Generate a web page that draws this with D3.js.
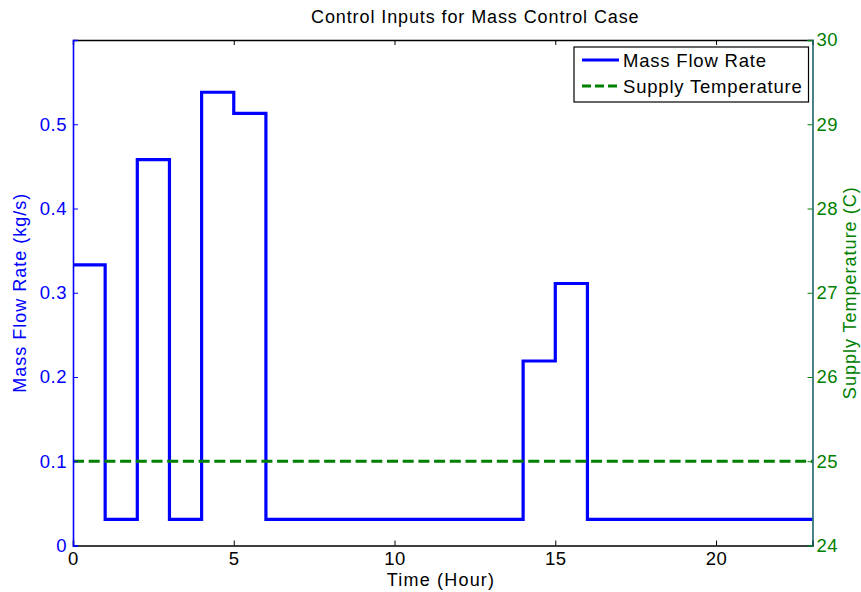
<!DOCTYPE html>
<html>
<head>
<meta charset="utf-8">
<script src="https://cdn.jsdelivr.net/npm/d3@7"></script>
<style>
body{margin:0;background:#fff;}
text{font-family:"Liberation Sans",Arial,Helvetica,sans-serif;}
</style>
</head>
<body>
<svg id="c" width="861" height="592"></svg>
<script>
// Data
const hours = [0,1,2,3,4,5,6,14,15,16,23];
const massFlow = [0.333,0.031,0.458,0.031,0.538,0.513,0.031,0.219,0.311,0.031,0.031];
const supplyTemp = [25,25];
const tempHours = [0,23];
const xTicks = [0,5,10,15,20];
const yLeftTicks = [0,0.1,0.2,0.3,0.4,0.5];
const yRightTicks = [24,25,26,27,28,29,30];
const title = "Control Inputs for Mass Control Case";
const xLabel = "Time (Hour)";
const yLeftLabel = "Mass Flow Rate (kg/s)";
const yRightLabel = "Supply Temperature (C)";
const legendLabels = ["Mass Flow Rate","Supply Temperature"];

const blue = "#0000ff", green = "#008000";
const L = 73, R = 812.5, T = 40, B = 545.5;
const svg = d3.select("#c");

const x = d3.scaleLinear().domain([0,23]).range([L,R]);
const yL = d3.scaleLinear().domain([0,0.6]).range([B,T]);
const yR = d3.scaleLinear().domain([24,30]).range([B,T]);

// Lines
const pts = hours.map((h,i)=>({x:h,y:massFlow[i]}));
const line = d3.line().x(d=>x(d.x)).y(d=>yL(d.y)).curve(d3.curveStepAfter);
svg.append("path").datum(pts).attr("d",line)
  .attr("fill","none").attr("stroke",blue).attr("stroke-width",3.2).attr("stroke-linejoin","miter");

const tpts = tempHours.map((h,i)=>({x:h,y:supplyTemp[i]}));
svg.append("path").datum(tpts)
  .attr("d",d3.line().x(d=>x(d.x)).y(d=>yR(d.y)))
  .attr("fill","none").attr("stroke",green).attr("stroke-width",3.2).attr("stroke-dasharray","11,4.7");

// Axes
const fs = "18.5px", ls = "0.5px";
// bottom
const gx = svg.append("g").attr("transform",`translate(0,${B})`)
  .call(d3.axisBottom(x).tickValues(xTicks).tickSize(-5).tickPadding(6).tickFormat(d3.format("d")));
gx.select(".domain").attr("stroke","#000").attr("stroke-width",1.6);
gx.selectAll("line").attr("stroke","#000");
gx.selectAll("text").attr("fill","#000").style("font-size",fs).style("letter-spacing",ls).attr("dy","0.71em");
// top
const gt = svg.append("g").attr("transform",`translate(0,${T})`)
  .call(d3.axisTop(x).tickValues(xTicks).tickSize(-5).tickFormat(""));
gt.select(".domain").attr("stroke","#000").attr("stroke-width",1.4);
gt.selectAll("line").attr("stroke","#000");
// left
const gl = svg.append("g").attr("transform",`translate(${L},0)`)
  .call(d3.axisLeft(yL).tickValues(yLeftTicks).tickSize(-5).tickPadding(6).tickFormat(d=>d===0?"0":d3.format(".1f")(d)));
gl.select(".domain").attr("stroke",blue).attr("stroke-width",1.6);
gl.selectAll("line").attr("stroke",blue);
gl.selectAll("text").attr("fill",blue).style("font-size",fs).style("letter-spacing",ls);
// right
const gr = svg.append("g").attr("transform",`translate(${R},0)`)
  .call(d3.axisRight(yR).tickValues(yRightTicks).tickSize(-5).tickPadding(4).tickFormat(d3.format("d")));
gr.select(".domain").attr("stroke","#1d6470").attr("stroke-width",1.6);
gr.selectAll("line").attr("stroke",green);
gr.selectAll("text").attr("fill",green).style("font-size",fs).style("letter-spacing",ls);

// Labels
svg.append("text").attr("x",311).attr("y",23).attr("text-anchor","start")
  .style("font-size","18px").style("letter-spacing","0.9px").attr("fill","#000").text(title);
svg.append("text").attr("x",441).attr("y",586).attr("text-anchor","middle")
  .style("font-size","18px").style("letter-spacing","1.2px").attr("fill","#000").text(xLabel);
svg.append("text").attr("transform",`translate(26,${(T+B)/2}) rotate(-90)`).attr("text-anchor","middle")
  .style("font-size","18px").style("letter-spacing","1px").attr("fill",blue).text(yLeftLabel);
svg.append("text").attr("transform",`translate(856,${(T+B)/2}) rotate(-90)`).attr("text-anchor","middle")
  .style("font-size","18px").style("letter-spacing","1px").attr("fill",green).text(yRightLabel);

// Legend
const lg = svg.append("g");
lg.append("rect").attr("x",574).attr("y",47).attr("width",234.5).attr("height",55)
  .attr("fill","#fff").attr("stroke","#000").attr("stroke-width",1.2);
const rows = [{c:blue,d:null,y:60},{c:green,d:"9,4",y:86}];
rows.forEach((r,i)=>{
  lg.append("line").attr("x1",582).attr("x2",619).attr("y1",r.y).attr("y2",r.y)
    .attr("stroke",r.c).attr("stroke-width",3.2).attr("stroke-dasharray",r.d);
  lg.append("text").attr("x",623).attr("y",r.y+6.5).style("font-size","18.5px").style("letter-spacing","0.8px").attr("fill","#000").text(legendLabels[i]);
});
</script>
</body>
</html>
